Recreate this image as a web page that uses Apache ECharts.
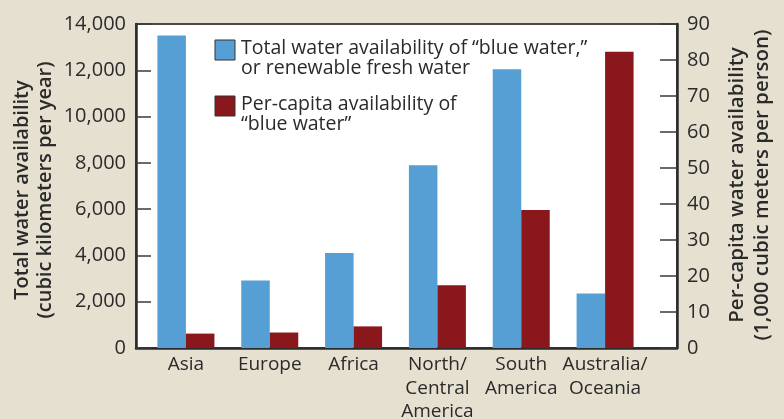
<!DOCTYPE html>
<html>
<head>
<meta charset="utf-8">
<script src="https://cdn.jsdelivr.net/npm/echarts@6/dist/echarts.min.js"></script>
<style>
html,body{margin:0;padding:0;background:#e6e0d1;}
#chart{width:784px;height:419px;}
</style>
</head>
<body>
<div id="chart"></div>
<script>
var categories = ['Asia', 'Europe', 'Africa', 'North/\nCentral\nAmerica', 'South\nAmerica', 'Australia/\nOceania'];
var totalWater = [13500, 2920, 4100, 7900, 12050, 2360];
var perCapita = [4.0, 4.3, 6.0, 17.4, 38.3, 82.3];
var leftTicks = [0, 14000, 2000];
var rightTicks = [0, 90, 10];
var legendNames = ['Total water availability of \u201cblue water,\u201d\nor renewable fresh water', 'Per-capita availability of\n\u201cblue water\u201d'];
var axisTitles = ['Total water availability\n(cubic kilometers per year)', 'Per-capita water availability\n(1,000 cubic meters per person)'];

var BLUE = '#569fd4', RED = '#8a171c', TXT = '#2a2a2a';
var FONT = '"Open Sans", "Noto Sans", sans-serif';
var chart = echarts.init(document.getElementById('chart'), null, {renderer: 'canvas'});

var gridTop = 24, gridBottom = 71;
var option = {
  backgroundColor: '#e6e0d1',
  animation: false,
  textStyle: {fontFamily: FONT, color: TXT},
  grid: [
    {left: 136, right: 107, top: gridTop, bottom: gridBottom, show: true, backgroundColor: '#ffffff', borderColor: '#4a4a4a', borderWidth: 2, containLabel: false, outerBoundsMode: 'none'},
    {left: 144, right: 137, top: gridTop, bottom: gridBottom, containLabel: false, outerBoundsMode: 'none'}
  ],
  xAxis: [
    {type: 'value', gridIndex: 0, min: 0, max: 1, axisLabel: {show: false}, axisTick: {show: false}, splitLine: {show: false},
     axisLine: {show: true, lineStyle: {color: '#2b2b2b', width: 2.5}}},
    {type: 'category', gridIndex: 1, data: categories, axisLine: {show: false}, axisTick: {show: false},
     axisLabel: {fontSize: 19, lineHeight: 23.5, color: TXT, margin: 5, fontFamily: FONT, interval: 0}}
  ],
  yAxis: [
    {type: 'value', gridIndex: 0, position: 'left', min: leftTicks[0], max: leftTicks[1], interval: leftTicks[2],
     splitLine: {show: false},
     axisLine: {show: true, lineStyle: {color: '#2b2b2b', width: 2.5}},
     axisTick: {show: true, inside: true, length: 15, lineStyle: {color: '#3a3a3a', width: 1.5}},
     axisLabel: {fontSize: 20, color: TXT, margin: 10, fontFamily: FONT,
       formatter: function (v) { return v.toLocaleString('en-US'); }}},
    {type: 'value', gridIndex: 0, position: 'right', min: rightTicks[0], max: rightTicks[1], interval: rightTicks[2],
     splitLine: {show: false},
     axisLine: {show: true, lineStyle: {color: '#2b2b2b', width: 2.5}},
     axisTick: {show: true, inside: true, length: 17, lineStyle: {color: '#3a3a3a', width: 1.5}},
     axisLabel: {fontSize: 20, color: TXT, margin: 10, fontFamily: FONT}},
    {type: 'value', gridIndex: 1, min: leftTicks[0], max: leftTicks[1], show: false},
    {type: 'value', gridIndex: 1, min: rightTicks[0], max: rightTicks[1], show: false}
  ],
  series: [
    {name: 'total', type: 'bar', xAxisIndex: 1, yAxisIndex: 2, data: totalWater, barWidth: 28.5, barGap: '0%', itemStyle: {color: BLUE}},
    {name: 'percap', type: 'bar', xAxisIndex: 1, yAxisIndex: 3, data: perCapita, barWidth: 28.5, barGap: '0%', itemStyle: {color: RED}}
  ],
  graphic: [
    {type: 'rect', shape: {x: 215, y: 40, width: 20, height: 20}, style: {fill: BLUE, stroke: '#333', lineWidth: 1}, z: 10},
    {type: 'text', x: 241, y: 38, style: {text: legendNames[0], font: '19.5px ' + FONT, fill: TXT, lineHeight: 20, verticalAlign: 'top'}, z: 10},
    {type: 'rect', shape: {x: 215, y: 96, width: 20, height: 20}, style: {fill: RED, stroke: '#333', lineWidth: 1}, z: 10},
    {type: 'text', x: 241, y: 94, style: {text: legendNames[1], font: '19.5px ' + FONT, fill: TXT, lineHeight: 20, verticalAlign: 'top'}, z: 10},
    {type: 'text', x: 34, y: 190, rotation: Math.PI / 2,
     style: {text: axisTitles[0], font: '600 20px ' + FONT, fill: TXT, lineHeight: 23, align: 'center', verticalAlign: 'middle'}},
    {type: 'text', x: 750, y: 185, rotation: Math.PI / 2,
     style: {text: axisTitles[1], font: '600 20.5px ' + FONT, fill: TXT, lineHeight: 25, align: 'center', verticalAlign: 'middle'}}
  ]
};
chart.setOption(option);
</script>
</body>
</html>
